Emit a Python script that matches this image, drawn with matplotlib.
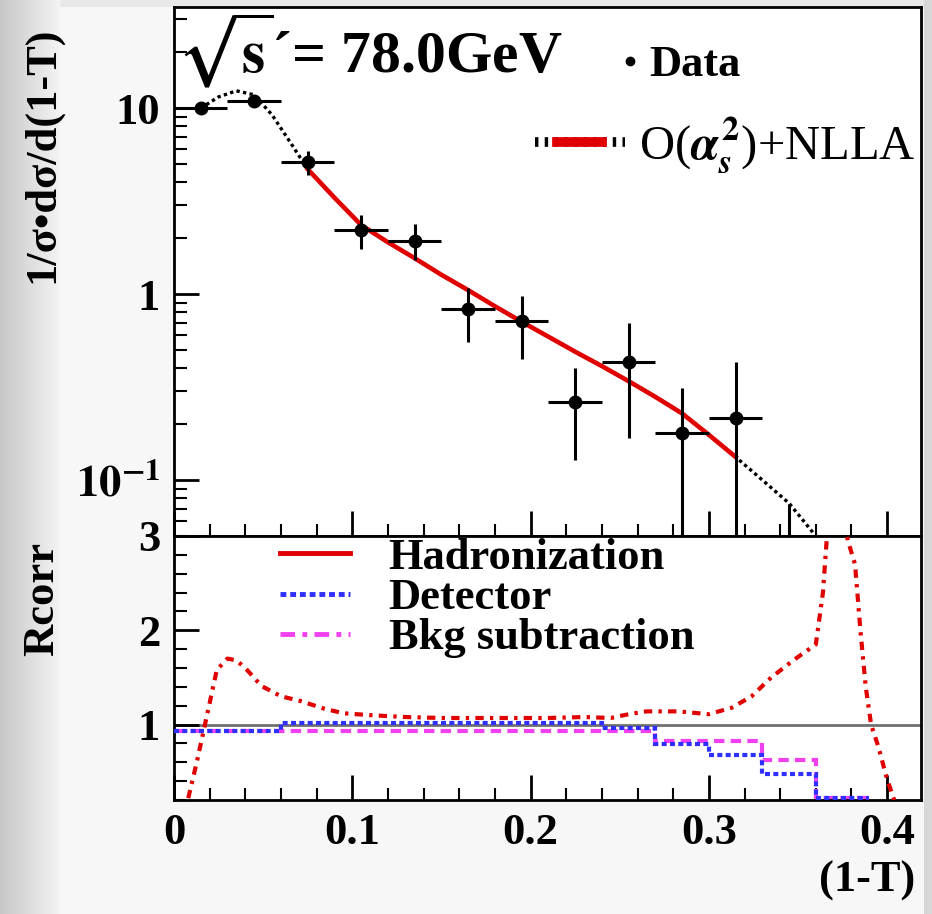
import matplotlib
matplotlib.use("Agg")
import matplotlib.pyplot as plt
import numpy as np
from matplotlib.lines import Line2D
from matplotlib.legend_handler import HandlerLine2D, HandlerTuple
from matplotlib.ticker import FixedLocator, MultipleLocator, LogLocator, NullFormatter

plt.rcParams['font.family'] = ['Liberation Serif', 'DejaVu Serif']
plt.rcParams['font.weight'] = 'bold'
plt.rcParams['mathtext.fontset'] = 'stix'

# measured (1-T) distribution
data_x = [0.015, 0.045, 0.075, 0.105, 0.135, 0.165, 0.195, 0.225, 0.255, 0.285, 0.315, 0.345]
data_y = [10.0, 10.9, 5.13, 2.21, 1.93, 0.827, 0.719, 0.264, 0.430, 0.180, 0.215, 0.030]
err_up = [0.5, 0.5, 0.75, 0.45, 0.45, 0.25, 0.26, 0.136, 0.27, 0.131, 0.215, 0.044]
err_dn = [0.5, 0.5, 0.75, 0.46, 0.41, 0.275, 0.273, 0.136, 0.262, 0.175, 0.21, 0.025]
bin_half = [0.015] * 12

# O(as^2)+NLLA prediction
theory_x = [0.015, 0.025, 0.035, 0.045, 0.055, 0.065, 0.075, 0.09, 0.105, 0.12, 0.135,
            0.15, 0.165, 0.18, 0.195, 0.21, 0.225, 0.24, 0.255, 0.27, 0.285, 0.30,
            0.315, 0.33, 0.345, 0.36]
theory_y = [10.0, 11.5, 12.4, 11.8, 9.2, 6.6, 4.7, 3.3, 2.35, 1.9, 1.56,
            1.27, 1.05, 0.86, 0.71, 0.59, 0.49, 0.41, 0.34, 0.28, 0.228, 0.175,
            0.133, 0.10, 0.075, 0.05]
fit_lo, fit_hi = 0.075, 0.315

# correction factors
had_x = [0.008, 0.013, 0.020, 0.024, 0.030, 0.035, 0.040, 0.049, 0.060, 0.071,
         0.084, 0.095, 0.11, 0.13, 0.15, 0.17, 0.19, 0.21, 0.23, 0.245,
         0.255, 0.265, 0.283, 0.30, 0.313, 0.324, 0.335, 0.348, 0.360, 0.364,
         0.367, 0.372, 0.378, 0.382, 0.385, 0.388, 0.391, 0.395, 0.400, 0.404]
had_y = [0.22, 0.62, 1.23, 1.58, 1.70, 1.68, 1.60, 1.41, 1.30, 1.25,
         1.17, 1.12, 1.10, 1.08, 1.07, 1.07, 1.07, 1.07, 1.08, 1.07,
         1.11, 1.14, 1.14, 1.11, 1.18, 1.30, 1.50, 1.69, 1.85, 2.4,
         3.2, 3.5, 2.95, 2.7, 2.0, 1.4, 1.0, 0.77, 0.42, 0.2]
edges = [0.0, 0.03, 0.06, 0.09, 0.12, 0.15, 0.18, 0.21, 0.24, 0.27, 0.30, 0.33, 0.36, 0.39]
det_vals = [0.93, 0.93, 1.02, 1.02, 1.02, 1.02, 1.02, 1.02, 0.96, 0.79, 0.68, 0.48, 0.22]
bkg_vals = [0.93, 0.93, 0.93, 0.93, 0.93, 0.93, 0.93, 0.93, 0.93, 0.83, 0.83, 0.62, 0.22]

RED = '#e00000'
BLUE = '#2f2fff'
MAGENTA = '#f040f0'
FS = 32


class HandlerShort(HandlerLine2D):
    # draws the line sample over the middle part of the handle box only
    def __init__(self, frac, **kw):
        super().__init__(**kw)
        self.frac = frac

    def create_artists(self, legend, orig_handle, xdescent, ydescent, width, height, fontsize, trans):
        w = width * self.frac
        return super().create_artists(legend, orig_handle, xdescent - (width - w) / 2,
                                      ydescent, w, height, fontsize, trans)


fig = plt.figure(figsize=(9.32, 9.14), dpi=100)

# grey canvas background
bg = fig.add_axes([0, 0, 1, 1], zorder=-10)
bg.axis('off')
col = np.full(932, 0.965)
col[:60] = np.linspace(0.78, 0.95, 60)
col[924:] = 0.84
img = np.tile(col, (914, 1))
img[:7, 60:924] = 0.91
bg.imshow(img, cmap='gray', vmin=0, vmax=1, extent=[0, 1, 0, 1], aspect='auto')

ax1 = fig.add_axes([0.1867, 0.4136, 0.8015, 0.5787])
ax2 = fig.add_axes([0.1867, 0.1247, 0.8015, 0.2889])

# ---- upper panel ----
ax1.set_yscale('log')
ax1.plot(theory_x, theory_y, color='black', lw=2.4, ls=(0, (1, 1)), zorder=2)
tx = np.array(theory_x)
ty = np.array(theory_y)
sel = (tx >= fit_lo) & (tx <= fit_hi)
ax1.plot(tx[sel], ty[sel], color=RED, lw=3.3, zorder=3)
ax1.errorbar(data_x, data_y, yerr=[err_dn, err_up], xerr=bin_half, fmt='o', color='black',
             ms=9, elinewidth=2.2, capsize=0, zorder=4)

ax1.set_xlim(0, 0.419)
ax1.set_ylim(0.05, 35)
ax1.yaxis.set_major_locator(FixedLocator([0.1, 1, 10]))
ax1.set_yticklabels([r'$\mathbf{10^{-1}}$', '1', '10'])
ax1.yaxis.set_minor_locator(LogLocator(base=10, subs=np.arange(2, 10)))
ax1.yaxis.set_minor_formatter(NullFormatter())
ax1.xaxis.set_major_locator(MultipleLocator(0.1))
ax1.xaxis.set_minor_locator(MultipleLocator(0.02))
ax1.tick_params(which='both', direction='in', top=False, right=False, labelbottom=False,
                labelsize=FS, pad=10)
ax1.tick_params(which='major', length=18, width=2)
ax1.tick_params(which='minor', length=9, width=1.5)
ax1.set_ylabel('1/σ•dσ/d(1-T)', fontsize=FS, fontweight='bold')
ax1.yaxis.set_label_coords(-0.15, 0.72)

ax1.text(0.003, 0.919, r'$\sqrt{\mathbf{s}}$´= 78.0GeV', transform=ax1.transAxes,
         fontsize=43, fontweight='bold', ha='left', va='center')

data_h = Line2D([], [], marker='o', color='black', ls='none', ms=6)
leg1 = ax1.legend([data_h], ['Data'], loc='center left', bbox_to_anchor=(0.598, 0.89),
                  frameon=False, fontsize=FS, handlelength=0.4, handletextpad=0.25,
                  borderpad=0, borderaxespad=0)
ax1.add_artist(leg1)
dot_h = Line2D([], [], color='black', lw=7, ls=(0, (0.35, 0.65)))
red_h = Line2D([], [], color=RED, lw=7)
leg2 = ax1.legend([(dot_h, red_h)], [r'O($\alpha_s^2$)+NLLA'], loc='center left',
                  bbox_to_anchor=(0.483, 0.739), frameon=False, fontsize=35,
                  handlelength=1.85, handletextpad=0.3, borderpad=0, borderaxespad=0,
                  handler_map={tuple: HandlerTuple(), red_h: HandlerShort(0.5)})
leg2.get_texts()[0].set_fontweight('normal')

for sp in ax1.spines.values():
    sp.set_linewidth(2)

# ---- lower panel ----
ax2.axhline(1.0, color='#707070', lw=2, zorder=1)
ax2.stairs(det_vals, edges, baseline=None, color=BLUE, lw=3, ls=(0, (1.2, 0.8)), zorder=3)
ax2.stairs(bkg_vals, edges, baseline=None, color=MAGENTA, lw=3, ls=(0, (2.5, 1.5)), zorder=2)
ax2.plot(had_x, had_y, color=RED, lw=3, ls=(0, (2, 1.5, 0.8, 1.5)), zorder=4)

ax2.set_xlim(0, 0.419)
ax2.set_ylim(0.2, 3)
ax2.xaxis.set_major_locator(MultipleLocator(0.1))
ax2.xaxis.set_minor_locator(MultipleLocator(0.02))
ax2.yaxis.set_major_locator(MultipleLocator(1))
ax2.yaxis.set_minor_locator(MultipleLocator(0.2))
ax2.xaxis.set_major_formatter(lambda v, p: '0' if abs(v) < 1e-9 else f'{v:.1f}')
ax2.tick_params(which='both', direction='in', top=False, right=False, labelsize=FS)
ax2.tick_params(axis='y', pad=10)
ax2.tick_params(axis='x', pad=9)
ax2.tick_params(which='major', length=18, width=2)
ax2.tick_params(which='minor', length=9, width=1.5)
ax2.set_ylabel('Rcorr', fontsize=FS, fontweight='bold')
ax2.yaxis.set_label_coords(-0.15, 0.76)
ax2.set_xlabel('(1-T)', fontsize=FS, fontweight='bold', ha='right')
ax2.xaxis.set_label_coords(0.992, -0.23)

had_h = Line2D([], [], color=RED, lw=3.5)
det_h = Line2D([], [], color=BLUE, lw=3.5, ls=(0, (1.2, 0.8)))
bkg_h = Line2D([], [], color=MAGENTA, lw=3.5, ls=(0, (3, 1.5, 1, 1.5)))
ax2.legend([had_h, det_h, bkg_h], ['Hadronization', 'Detector', 'Bkg subtraction'],
           loc='center left', bbox_to_anchor=(0.142, 0.765), frameon=False, fontsize=FS,
           handlelength=1.58, handletextpad=0.86, labelspacing=0.0, borderpad=0,
           borderaxespad=0)

for sp in ax2.spines.values():
    sp.set_linewidth(2)

fig.savefig('out.png', dpi=100)
